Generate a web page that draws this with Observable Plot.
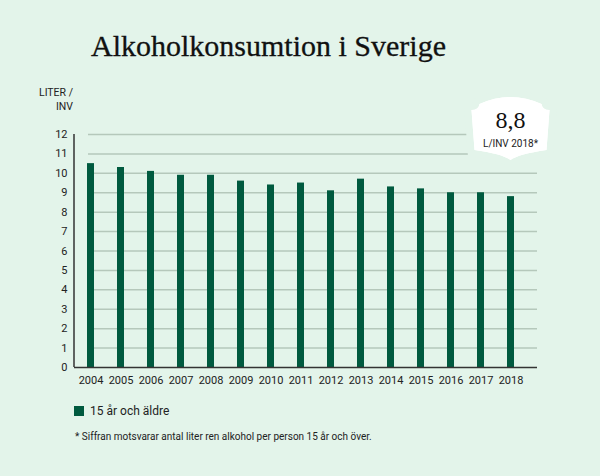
<!DOCTYPE html>
<html><head><meta charset="utf-8">
<script src="https://cdn.jsdelivr.net/npm/d3@7"></script>
<script src="https://cdn.jsdelivr.net/npm/@observablehq/plot@0.6"></script>
<style>
html,body{margin:0;padding:0;background:#e3f4ea;}
#wrap{position:relative;width:600px;height:476px;background:#e3f4ea;overflow:hidden;font-family:Roboto,sans-serif;color:#222;}
#title{position:absolute;left:91px;top:28px;font-family:"Liberation Serif",serif;font-size:30px;line-height:36px;color:#111;white-space:nowrap;-webkit-text-stroke:0.3px #111;}
#unit{position:absolute;right:527px;top:86px;font-family:"Liberation Sans Narrow",Roboto,sans-serif;font-size:10.5px;line-height:14px;text-align:right;color:#222;}
#chart{position:absolute;left:0;top:0;}
#legend{position:absolute;left:74px;top:403px;font-family:"Liberation Sans Narrow",Roboto,sans-serif;font-size:12px;line-height:16px;color:#222;white-space:nowrap;}
#legend .sw{display:inline-block;width:10px;height:10px;background:#005a3f;margin-right:6px;vertical-align:-1px;}
#note{position:absolute;left:75px;top:430px;font-family:"Liberation Sans Narrow",Roboto,sans-serif;font-size:10px;line-height:14px;color:#222;white-space:nowrap;}
</style></head><body>
<div id="wrap">
 <div id="title"></div>
 <div id="unit"></div>
 <div id="chart"></div>
 <div id="legend"></div>
 <div id="note"></div>
</div>
<script>
const titleText = "Alkoholkonsumtion i Sverige";
const unitLines = ["LITER /", "INV"];
const years = ["2004","2005","2006","2007","2008","2009","2010","2011","2012","2013","2014","2015","2016","2017","2018"];
const liters = [10.5,10.3,10.1,9.9,9.9,9.6,9.4,9.5,9.1,9.7,9.3,9.2,9.0,9.0,8.8];
const yTicks = [0,1,2,3,4,5,6,7,8,9,10,11,12];
const seriesLabel = "15 år och äldre";
const badgeYear = "2018";
const badgeLabel = "L/INV 2018*";
const footnote = "* Siffran motsvarar antal liter ren alkohol per person 15 år och över.";

const barColor = "#005a3f";
const bg = "#e3f4ea";

document.getElementById("title").textContent = titleText;
document.getElementById("unit").innerHTML = unitLines.join("<br>");
document.getElementById("legend").innerHTML = '<span class="sw"></span>' + seriesLabel;
document.getElementById("note").textContent = footnote;

const data = years.map((y, i) => ({year: y, value: liters[i]}));
const badgeValue = liters[years.indexOf(badgeYear)];

function yAxisLine(index, scales, values, dimensions) {
  const x0 = dimensions.marginLeft;
  return d3.create("svg:line")
    .attr("x1", x0).attr("x2", x0)
    .attr("y1", scales.y(d3.min(yTicks))).attr("y2", scales.y(d3.max(yTicks)))
    .attr("stroke", "#333").attr("stroke-width", 1.5).node();
}

function badge(index, scales) {
  const x = scales.x;
  const bw = typeof x.bandwidth === "function" ? x.bandwidth() : 0;
  const cx = x(badgeYear) + bw / 2;
  const y0 = scales.y(12);
  const g = d3.create("svg:g");
  const p = [
    `M${cx-39},${y0-24}`,
    `Q${cx-32},${y0-24} ${cx-31},${y0-30}`,
    `Q${cx},${y0-44} ${cx+31},${y0-30}`,
    `Q${cx+32},${y0-24} ${cx+39},${y0-24}`,
    `L${cx+36},${y0+16}`,
    `Q${cx+8},${y0+20} ${cx},${y0+26}`,
    `Q${cx-8},${y0+20} ${cx-36},${y0+16}`,
    "Z"
  ].join(" ");
  g.append("path").attr("d", p).attr("fill", "#ffffff")
    .attr("stroke", bg).attr("stroke-width", 14).attr("paint-order", "stroke");
  g.append("path").attr("d", p).attr("fill", "#ffffff");
  g.append("text").attr("x", cx).attr("y", y0 - 6).attr("text-anchor", "middle")
    .attr("font-family", "'Liberation Serif', serif").attr("font-size", 24).attr("fill", "#111")
    .text(badgeValue.toFixed(1).replace(".", ","));
  g.append("text").attr("x", cx).attr("y", y0 + 12.5).attr("text-anchor", "middle")
    .attr("font-family", "'Liberation Sans Narrow', Roboto, sans-serif").attr("font-size", 10).attr("fill", "#222")
    .text(badgeLabel);
  return g.node();
}

const chart = Plot.plot({
  width: 600,
  height: 400,
  marginTop: 134,
  marginBottom: 33,
  marginLeft: 74,
  marginRight: 63,
  style: {background: "transparent", fontFamily: "'Liberation Sans Narrow', Roboto, sans-serif", fontSize: "11px", color: "#222"},
  x: {type: "band", domain: years, paddingInner: 0.767, paddingOuter: 0.6, align: 0.367, label: null, tickSize: 0, tickPadding: 9},
  y: {domain: [0, 12], ticks: yTicks, label: null, tickSize: 0, tickPadding: 7},
  marks: [
    Plot.ruleY(yTicks.filter(d => d > 0), {stroke: "#b5c8bb", strokeWidth: 1.5, insetLeft: 14}),
    Plot.barY(data, {x: "year", y: "value", fill: barColor}),
    Plot.ruleY([0], {stroke: "#333", strokeWidth: 1.5}),
    yAxisLine,
    badge
  ]
});
document.getElementById("chart").appendChild(chart);
</script>
</body></html>
